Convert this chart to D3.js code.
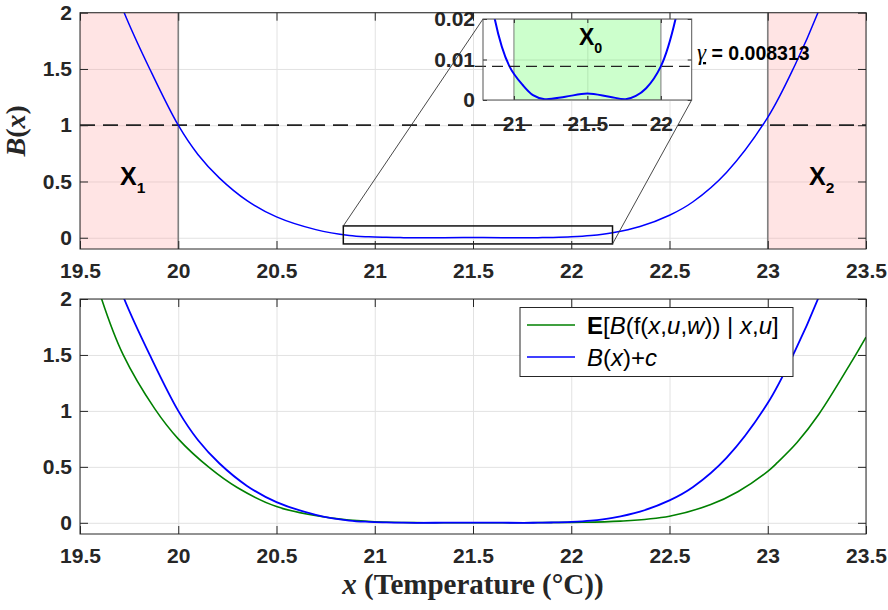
<!DOCTYPE html>
<html>
<head>
<meta charset="utf-8">
<script src="https://cdn.jsdelivr.net/npm/d3@7"></script>
<style>
  body { margin: 0; background: #fff; }
</style>
</head>
<body>
<div id="chart-area"></div>
<script>
const bX = [19.5, 19.6, 19.725, 19.855, 20.0, 20.1, 20.21, 20.35, 20.5, 20.7, 20.87, 20.97, 21.06, 21.13, 21.21, 21.35, 21.5, 21.65, 21.76, 21.83, 21.9, 22.0, 22.1, 22.21, 22.35, 22.5, 22.62, 22.79, 23.0, 23.14, 23.26, 23.4, 23.5];
const bY = [3.15, 2.6, 2.0, 1.5, 1.0, 0.74, 0.53, 0.33, 0.185, 0.072, 0.02, 0.0083, 0.0037, 0.0012, 0.0002, 0.0008, 0.0016, 0.0008, 0.0002, 0.001, 0.0029, 0.0083, 0.02, 0.045, 0.1, 0.2, 0.32, 0.58, 1.07, 1.54, 2.02, 2.7, 3.3];

// E[B(f(x,u,w)) | x,u]
const eX = [19.5, 19.61, 19.72, 19.88, 20.0, 20.16, 20.3, 20.5, 20.77, 21.0, 21.25, 21.5, 21.75, 22.0, 22.25, 22.5, 22.71, 22.85, 23.0, 23.05, 23.15, 23.26, 23.43, 23.5];
const eY = [2.69, 2.0, 1.5, 1.02, 0.75, 0.49, 0.315, 0.145, 0.045, 0.01, 0.001, 0.0005, 0.001, 0.004, 0.015, 0.059, 0.163, 0.28, 0.46, 0.54, 0.72, 0.97, 1.45, 1.66];

const xTicks = [19.5, 20, 20.5, 21, 21.5, 22, 22.5, 23, 23.5];
const yTicks = [0, 0.5, 1, 1.5, 2];
const insetXTicks = [21, 21.5, 22];
const insetYTicks = [0, 0.01, 0.02];

const unsafeX1 = [19.5, 20];
const unsafeX2 = [23, 23.5];
const initX0 = [21, 22];
const gamma = 0.008313;
const level = 1;
const zoomBox = { x: [20.84, 22.21], y: [-0.055, 0.105] };

const bData = bX.map((x, i) => ({ x, y: bY[i] }));
const eData = eX.map((x, i) => ({ x, y: eY[i] }));

const sans = '"Liberation Sans", Arial, Helvetica, sans-serif';
const serif = '"Liberation Serif", "Times New Roman", serif';
const axisCol = '#262626';
const gridCol = '#e2e2e2';
const smooth = d3.curveCatmullRom.alpha(0.5);

const svg = d3.select('#chart-area').append('svg')
  .attr('width', 888)
  .attr('height', 610);

const x = d3.scaleLinear().domain([19.5, 23.5]).range([80, 866]);
const yTop = d3.scaleLinear().domain([-0.1, 2]).range([249, 12.7]);
const yBot = d3.scaleLinear().domain([-0.1, 2]).range([534, 299]);
const xIn = d3.scaleLinear().domain([20.79, 22.21]).range([483, 691.7]);
const yIn = d3.scaleLinear().domain([0, 0.02]).range([100, 19]);

function grid(g, xs, ys, xt, yt) {
  const [x0, x1] = xs.range();
  const [y0, y1] = ys.range();
  g.append('g')
    .attr('transform', `translate(0,${y0})`)
    .call(d3.axisBottom(xs).tickValues(xt).tickSize(-(y0 - y1)).tickFormat(''))
    .call(a => a.select('.domain').remove())
    .call(a => a.selectAll('line').attr('stroke', gridCol));
  g.append('g')
    .attr('transform', `translate(${x0},0)`)
    .call(d3.axisLeft(ys).tickValues(yt).tickSize(-(x1 - x0)).tickFormat(''))
    .call(a => a.select('.domain').remove())
    .call(a => a.selectAll('line').attr('stroke', gridCol));
}

function frame(g, xs, ys, xt, yt, tick, fs, padX, padY, boxCol) {
  const [x0, x1] = xs.range();
  const [y0, y1] = ys.range();
  const style = a => {
    a.select('.domain').remove();
    a.selectAll('line').attr('stroke', axisCol);
    a.attr('font-family', sans).attr('font-size', fs).attr('font-weight', 'bold');
    a.selectAll('text').attr('fill', axisCol);
  };
  g.append('g').attr('transform', `translate(0,${y0})`)
    .call(d3.axisBottom(xs).tickValues(xt).tickSizeInner(-tick).tickSizeOuter(0).tickPadding(padY).tickFormat(d => d))
    .call(style);
  g.append('g').attr('transform', `translate(0,${y1})`)
    .call(d3.axisTop(xs).tickValues(xt).tickSizeInner(-tick).tickSizeOuter(0).tickFormat(''))
    .call(style);
  g.append('g').attr('transform', `translate(${x0},0)`)
    .call(d3.axisLeft(ys).tickValues(yt).tickSizeInner(-tick).tickSizeOuter(0).tickPadding(padX).tickFormat(d => d))
    .call(style);
  g.append('g').attr('transform', `translate(${x1},0)`)
    .call(d3.axisRight(ys).tickValues(yt).tickSizeInner(-tick).tickSizeOuter(0).tickFormat(''))
    .call(style);
  g.append('rect')
    .attr('x', x0).attr('y', y1)
    .attr('width', x1 - x0).attr('height', y0 - y1)
    .attr('fill', 'none').attr('stroke', boxCol || axisCol).attr('stroke-width', 1);
}

function clip(id, xs, ys) {
  const [x0, x1] = xs.range();
  const [y0, y1] = ys.range();
  svg.append('clipPath').attr('id', id)
    .append('rect').attr('x', x0).attr('y', y1).attr('width', x1 - x0).attr('height', y0 - y1);
}

clip('clipTop', x, yTop);
clip('clipBot', x, yBot);
clip('clipIn', xIn, yIn);

// ---------- top panel ----------
const topG = svg.append('g');
grid(topG, x, yTop, xTicks, yTicks);

const topPlot = topG.append('g').attr('clip-path', 'url(#clipTop)');
[unsafeX1, unsafeX2].forEach(r => {
  topPlot.append('rect')
    .attr('x', x(r[0])).attr('y', yTop(2))
    .attr('width', x(r[1]) - x(r[0])).attr('height', yTop(-0.1) - yTop(2))
    .attr('fill', '#ff9a9a').attr('fill-opacity', 0.27);
});
[unsafeX1[1], unsafeX2[0]].forEach(v => {
  topPlot.append('line')
    .attr('x1', x(v)).attr('x2', x(v))
    .attr('y1', yTop(2)).attr('y2', yTop(-0.1))
    .attr('stroke', '#808080').attr('stroke-width', 1.6);
});
topPlot.append('line')
  .attr('x1', x(19.5)).attr('x2', x(23.5))
  .attr('y1', yTop(level)).attr('y2', yTop(level))
  .attr('stroke', '#222').attr('stroke-width', 1.7).attr('stroke-dasharray', '15,8');

const lineTop = d3.line().x(d => x(d.x)).y(d => yTop(d.y)).curve(smooth);
topPlot.append('path').datum(bData)
  .attr('d', lineTop).attr('fill', 'none').attr('stroke', '#0000ff').attr('stroke-width', 1.5);

topG.append('rect')
  .attr('x', x(zoomBox.x[0])).attr('y', yTop(zoomBox.y[1]))
  .attr('width', x(zoomBox.x[1]) - x(zoomBox.x[0]))
  .attr('height', yTop(zoomBox.y[0]) - yTop(zoomBox.y[1]))
  .attr('fill', 'none').attr('stroke', '#111').attr('stroke-width', 1.5);

frame(topG, x, yTop, xTicks, yTicks, 8, 21, 8, 14);

// X1 / X2 labels
function setLabel(g, px, py, sub, fs) {
  const t = g.append('text').attr('x', px).attr('y', py)
    .attr('font-family', sans).attr('font-weight', 'bold').attr('font-size', fs).attr('fill', '#000');
  t.append('tspan').text('X');
  t.append('tspan').attr('font-size', fs * 0.62).attr('dy', fs * 0.33).text(sub);
}
setLabel(topG, 120, 185, '1', 25);
setLabel(topG, 809, 185, '2', 25);

// connector lines to inset
topG.append('line')
  .attr('x1', x(zoomBox.x[0])).attr('y1', yTop(zoomBox.y[1]))
  .attr('x2', xIn(20.79)).attr('y2', yIn(0.02))
  .attr('stroke', '#333').attr('stroke-width', 0.9);
topG.append('line')
  .attr('x1', x(zoomBox.x[1])).attr('y1', yTop(zoomBox.y[0]))
  .attr('x2', xIn(22.21)).attr('y2', yIn(0))
  .attr('stroke', '#333').attr('stroke-width', 0.9);

// ---------- inset ----------
const inset = svg.append('g');
inset.append('rect')
  .attr('x', xIn(20.79)).attr('y', yIn(0.02))
  .attr('width', xIn(22.21) - xIn(20.79)).attr('height', yIn(0) - yIn(0.02))
  .attr('fill', '#fff');
grid(inset, xIn, yIn, insetXTicks, insetYTicks);
const inPlot = inset.append('g').attr('clip-path', 'url(#clipIn)');
inPlot.append('rect')
  .attr('x', xIn(initX0[0])).attr('y', yIn(0.02))
  .attr('width', xIn(initX0[1]) - xIn(initX0[0])).attr('height', yIn(0) - yIn(0.02))
  .attr('fill', '#00ff00').attr('fill-opacity', 0.2)
  .attr('stroke', '#8a8a8a').attr('stroke-width', 1);
const lineIn = d3.line().x(d => xIn(d.x)).y(d => yIn(d.y)).curve(smooth);
inPlot.append('path').datum(bData)
  .attr('d', lineIn).attr('fill', 'none').attr('stroke', '#0000ff').attr('stroke-width', 2);
inset.append('line')
  .attr('x1', xIn(20.79) - 8).attr('x2', xIn(22.21) - 2)
  .attr('y1', yIn(gamma)).attr('y2', yIn(gamma))
  .attr('stroke', '#222').attr('stroke-width', 1.3).attr('stroke-dasharray', '11,6');
frame(inset, xIn, yIn, insetXTicks, insetYTicks, 4, 21, 8, 16, '#555');
setLabel(inset, 579, 45, '0', 23);

// gamma label
const gl = svg.append('text').attr('x', 697).attr('y', 60)
  .attr('font-family', sans).attr('font-size', 19.5).attr('font-weight', 'bold').attr('fill', '#000');
gl.append('tspan').attr('font-family', serif).attr('font-style', 'italic').attr('font-weight', 'normal')
  .attr('font-size', 23).attr('text-decoration', 'underline').text('γ');
gl.append('tspan').text(' = ' + gamma);

// y label
svg.append('text')
  .attr('transform', `translate(25,${(yTop(2) + yTop(-0.1)) / 2}) rotate(-90)`)
  .attr('text-anchor', 'middle')
  .attr('font-family', serif).attr('font-size', 28).attr('font-weight', 'bold').attr('fill', axisCol)
  .call(t => {
    t.append('tspan').attr('font-style', 'italic').text('B');
    t.append('tspan').text('(');
    t.append('tspan').attr('font-style', 'italic').text('x');
    t.append('tspan').text(')');
  });

// ---------- bottom panel ----------
const botG = svg.append('g');
grid(botG, x, yBot, xTicks, yTicks);
const botPlot = botG.append('g').attr('clip-path', 'url(#clipBot)');
const lineBot = d3.line().x(d => x(d.x)).y(d => yBot(d.y)).curve(smooth);
botPlot.append('path').datum(eData)
  .attr('d', lineBot).attr('fill', 'none').attr('stroke', '#008000').attr('stroke-width', 1.6);
botPlot.append('path').datum(bData)
  .attr('d', lineBot).attr('fill', 'none').attr('stroke', '#0000ff').attr('stroke-width', 1.8);
frame(botG, x, yBot, xTicks, yTicks, 8, 21, 8, 14);

// legend
const lg = svg.append('g');
lg.append('rect').attr('x', 520).attr('y', 307.5).attr('width', 273).attr('height', 69)
  .attr('fill', '#fff').attr('stroke', axisCol).attr('stroke-width', 1);
lg.append('line').attr('x1', 527).attr('x2', 575).attr('y1', 325).attr('y2', 325)
  .attr('stroke', '#008000').attr('stroke-width', 1.6);
lg.append('line').attr('x1', 527).attr('x2', 575).attr('y1', 357).attr('y2', 357)
  .attr('stroke', '#0000ff').attr('stroke-width', 1.6);
const leg1 = lg.append('text').attr('x', 587).attr('y', 334)
  .attr('font-family', sans).attr('font-size', 24).attr('fill', '#000');
[['E', 'b'], ['[', ''], ['B', 'i'], ['(f(', ''], ['x', 'i'], [',', ''], ['u', 'i'], [',', ''], ['w', 'i'],
 [')) | ', ''], ['x', 'i'], [',', ''], ['u', 'i'], [']', '']].forEach(([s, f]) => {
  leg1.append('tspan')
    .attr('font-weight', f === 'b' ? 'bold' : 'normal')
    .attr('font-style', f === 'i' ? 'italic' : 'normal')
    .text(s);
});
const leg2 = lg.append('text').attr('x', 587).attr('y', 366)
  .attr('font-family', sans).attr('font-size', 24).attr('fill', '#000');
[['B', 'i'], ['(', ''], ['x', 'i'], [')+', ''], ['c', 'i']].forEach(([s, f]) => {
  leg2.append('tspan').attr('font-style', f === 'i' ? 'italic' : 'normal').text(s);
});

// x label
svg.append('text')
  .attr('x', (x(19.5) + x(23.5)) / 2).attr('y', 594)
  .attr('text-anchor', 'middle')
  .attr('font-family', serif).attr('font-size', 29).attr('font-weight', 'bold').attr('fill', axisCol)
  .call(t => {
    t.append('tspan').attr('font-style', 'italic').text('x');
    t.append('tspan').text(' (Temperature (°C))');
  });
</script>
</body>
</html>
